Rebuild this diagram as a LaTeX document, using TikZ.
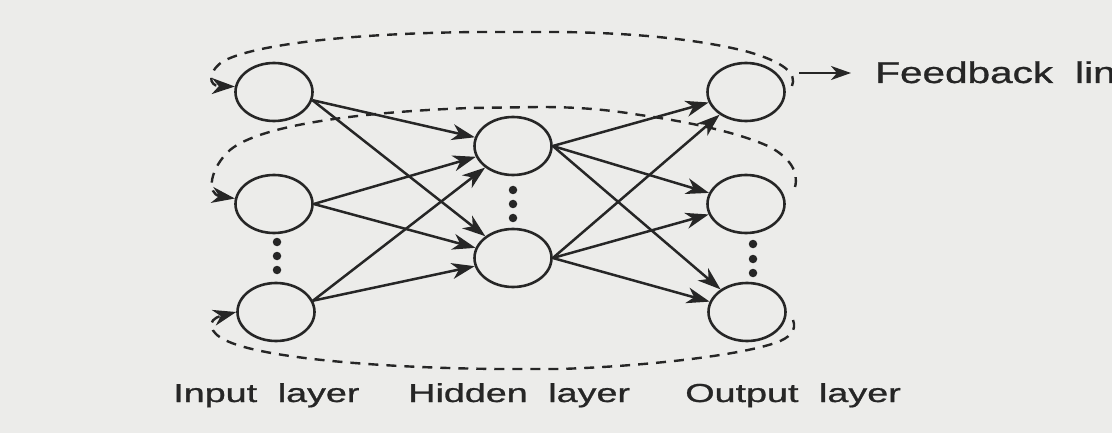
\documentclass[tikz,border=0pt]{standalone}
\usepackage{fontspec}
\setmainfont{Liberation Sans}
\newfontfamily\lblfont{Liberation Sans}[FakeBold=0.8]
\usetikzlibrary{shapes.geometric,arrows.meta,calc}
\definecolor{ink}{RGB}{38,38,38}
\definecolor{paper}{RGB}{236,236,234}
\begin{document}
\begin{tikzpicture}[x=1pt,y=-1pt,
  neuron/.style={ellipse, draw=ink, line width=2.6pt, minimum width=77pt, minimum height=58pt, inner sep=0pt},
  tip/.style={-{Stealth[length=23pt,width=16pt,inset=7pt]}},
  conn/.style={draw=ink, line width=2.5pt, tip},
  fb/.style={draw=ink, line width=2.4pt, dash pattern=on 10pt off 8pt, tip},
  lbl/.style={text=ink, font=\lblfont\fontsize{26pt}{26pt}\selectfont, xscale=1.45, anchor=base west, inner sep=0pt},
  fbtext/.style={text=ink, font=\lblfont\fontsize{30pt}{30pt}\selectfont, xscale=1.35, anchor=base west, inner sep=0pt},
  dotn/.style={circle, fill=ink, inner sep=0pt, minimum size=8.5pt}
]
\fill[paper] (0,0) rectangle (1112,433);
\useasboundingbox (0,0) rectangle (1112,433);

% neurons
\node[neuron] (i1) at (274,92) {};
\node[neuron] (i2) at (274,204) {};
\node[neuron] (i3) at (276,312) {};
\node[neuron] (h1) at (513,146) {};
\node[neuron] (h2) at (513,258) {};
\node[neuron] (o1) at (746,92) {};
\node[neuron] (o2) at (746,204) {};
\node[neuron] (o3) at (747,312) {};

% ellipsis dots
\node[dotn] (di1) at (277,242) {};
\node[dotn] (di2) at (277,256) {};
\node[dotn] (di3) at (277,270) {};
\node[dotn] (dh1) at (513,190) {};
\node[dotn] (dh2) at (513,204) {};
\node[dotn] (dh3) at (513,218) {};
\node[dotn] (do1) at (753,244) {};
\node[dotn] (do2) at (753,259) {};
\node[dotn] (do3) at (753,273) {};

% input -> hidden
\draw[conn] (i1.-12) -- (h1);
\draw[conn] (i1.-12) -- (h2);
\draw[conn] (i2.east) -- (h1);
\draw[conn] (i2.east) -- (h2);
\draw[conn] (i3.17) -- (h1);
\draw[conn] (i3.17) -- (h2);
% hidden -> output
\draw[conn] (h1.east) -- (o1);
\draw[conn] (h1.east) -- (o2);
\draw[conn] (h1.east) -- (o3);
\draw[conn] (h2.east) -- (o1);
\draw[conn] (h2.east) -- (o2);
\draw[conn] (h2.east) -- (o3);

% feedback loops
\coordinate (f1s) at (792,86);
\coordinate (f2s) at (795,187);
\coordinate (f3s) at (793,320);
\draw[fb] (f1s) .. controls (797,74) and (785,62) .. (745,51)
  .. controls (700,40) and (640,33) .. (560,32) -- (480,32)
  .. controls (350,33) and (250,45) .. (222,62)
  .. controls (208,72) and (208,86) .. (i1.172);
\draw[fb] (f2s) .. controls (799,172) and (790,158) .. (770,147)
  .. controls (740,133) and (690,122) .. (640,115)
  .. controls (610,110) and (580,107) .. (540,107) -- (470,108)
  .. controls (360,112) and (260,125) .. (230,150)
  .. controls (210,168) and (206,194) .. (i2.172);
\draw[fb] (f3s) .. controls (797,330) and (790,338) .. (775,343)
  .. controls (740,355) and (650,366) .. (560,369) -- (500,369)
  .. controls (380,368) and (260,358) .. (225,340)
  .. controls (210,333) and (205,320) .. (i3.west);

% feedback label
\node[fbtext] (fbl) at (875,83) {Feedback \hspace{8pt}link};
\coordinate (fbs) at (799,73);
\draw[ink, line width=2.3pt, -{Stealth[length=20pt,width=14pt,inset=6pt]}, shorten >=24pt] (fbs) -- (fbs -| fbl.west);

% layer labels
\node[lbl] (li) at (173,402) {Input \hspace{7pt}layer};
\node[lbl] (lh) at (408,402) {Hidden \hspace{7pt}layer};
\node[lbl] (lo) at (685,402) {Output \hspace{7pt}layer};
\end{tikzpicture}
\end{document}
